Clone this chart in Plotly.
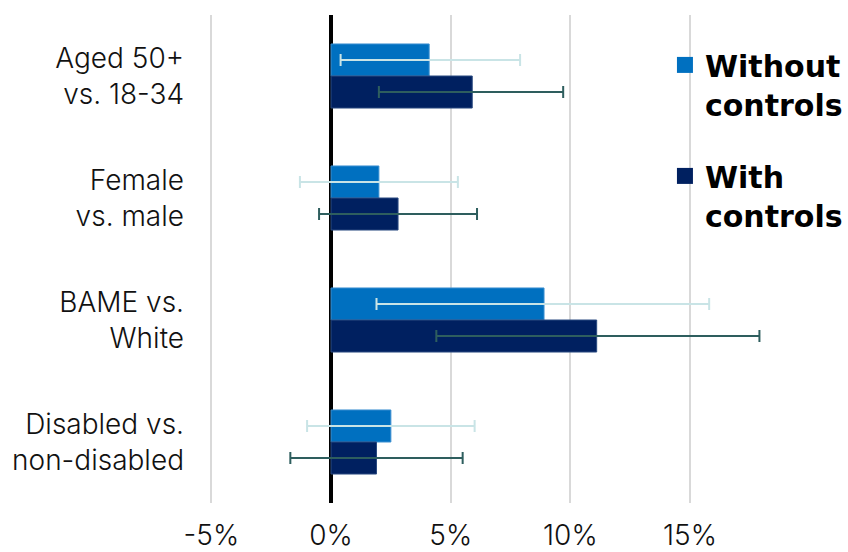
import plotly.graph_objects as go

categories = ["Aged 50+<br>vs. 18-34", "Female<br>vs. male", "BAME vs.<br>White", "Disabled vs.<br>non-disabled"]

without_vals = [4.1, 2.0, 8.9, 2.5]
without_lo = [0.4, -1.3, 1.9, -1.0]
without_hi = [7.9, 5.3, 15.8, 6.0]

with_vals = [5.9, 2.8, 11.1, 1.9]
with_lo = [2.0, -0.5, 4.4, -1.7]
with_hi = [9.7, 6.1, 17.9, 5.5]

tick_vals = [-5, 0, 5, 10, 15]
tick_text = ["-5%", "0%", "5%", "10%", "15%"]

C_WITHOUT = "#0070C0"
C_WITH = "#002060"
E_WITHOUT = "#C9E4E6"
E_WITH = "#2E5E5E"

fig = go.Figure()

fig.add_trace(go.Bar(
    y=categories, x=without_vals, orientation="h", name="Without<br>controls",
    marker=dict(color=C_WITHOUT, line=dict(color="#3A8FD0", width=1)),
    error_x=dict(type="data", symmetric=False,
                 array=[h - v for h, v in zip(without_hi, without_vals)],
                 arrayminus=[v - l for v, l in zip(without_vals, without_lo)],
                 color=E_WITHOUT, thickness=2, width=6),
    showlegend=False,
))
fig.add_trace(go.Bar(
    y=categories, x=with_vals, orientation="h", name="With<br>controls",
    marker=dict(color=C_WITH, line=dict(color="#2A4A80", width=1)),
    error_x=dict(type="data", symmetric=False,
                 array=[h - v for h, v in zip(with_hi, with_vals)],
                 arrayminus=[v - l for v, l in zip(with_vals, with_lo)],
                 color=E_WITH, thickness=2, width=6),
    showlegend=False,
))

# legend entries
fig.add_trace(go.Scatter(x=[None], y=[None], mode="markers", name="Without<br>controls",
                         marker=dict(symbol="square", size=18, color=C_WITHOUT),
                         legendgroup="a"))
fig.add_trace(go.Scatter(x=[None], y=[None], mode="markers", name="With<br>controls",
                         marker=dict(symbol="square", size=18, color=C_WITH),
                         legendgroup="b"))

tick_font = dict(family="Inter, sans-serif", size=28, color="#111111", weight=300)

fig.update_layout(
    width=848, height=552,
    margin=dict(l=197, r=0, t=15, b=49),
    paper_bgcolor="white", plot_bgcolor="white",
    barmode="group", bargap=0.475, bargroupgap=0,
    font=dict(family="Inter, sans-serif", size=28, color="#111111"),
    xaxis=dict(range=[-5.6, 21.35], tickvals=tick_vals, ticktext=tick_text,
               showgrid=True, gridcolor="#D9D9D9", gridwidth=2,
               zeroline=True, zerolinecolor="#000000", zerolinewidth=4,
               showline=False, ticks="", ticklabelstandoff=13,
               tickfont=tick_font, automargin=False),
    yaxis=dict(type="category", range=[3.5, -0.5], showgrid=False, showline=False,
               ticks="", ticklabelstandoff=12, tickfont=tick_font,
               automargin=False),
    legend=dict(x=0.7255, y=0.951, xanchor="left", yanchor="top", valign="top",
                tracegroupgap=30, bgcolor="rgba(0,0,0,0)",
                font=dict(family="DejaVu Sans, sans-serif", size=30, color="#000000", weight="bold"),
                itemwidth=30, traceorder="grouped"),
)

fig.write_html("out.html", config={"displayModeBar": False},
               post_script="document.body.style.margin='0';document.body.style.overflow='hidden';")
